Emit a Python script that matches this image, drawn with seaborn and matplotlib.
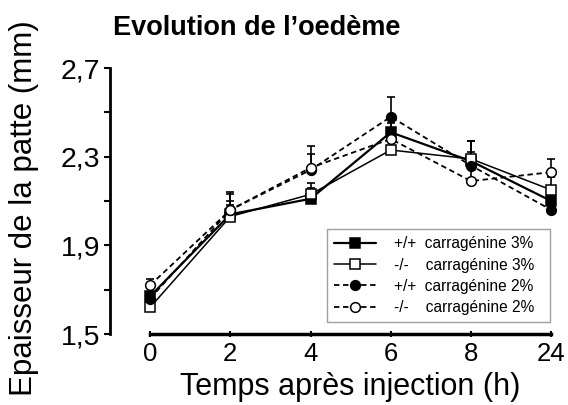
import numpy as np
import pandas as pd
import matplotlib
matplotlib.use("Agg")
import matplotlib.pyplot as plt
import seaborn as sns

# données
temps = ["0", "2", "4", "6", "8", "24"]
series = ["+/+  carragénine 3%  ", "-/-    carragénine 3%  ",
          "+/+  carragénine 2%  ", "-/-    carragénine 2%  "]
wt_3 = [1.67, 2.04, 2.11, 2.41, 2.28, 2.10]
ko_3 = [1.62, 2.03, 2.13, 2.33, 2.29, 2.15]
wt_2 = [1.66, 2.06, 2.24, 2.48, 2.26, 2.06]
ko_2 = [1.72, 2.06, 2.25, 2.38, 2.19, 2.23]
err_wt_3 = [0.04, 0.06, 0.05, 0.08, 0.09, 0.05]
err_ko_3 = [0.03, 0.05, 0.05, 0.06, 0.08, 0.06]
err_wt_2 = [0.05, 0.07, 0.07, 0.09, 0.11, 0.05]
err_ko_2 = [0.03, 0.08, 0.10, 0.07, 0.13, 0.06]

valeurs = [wt_3, ko_3, wt_2, ko_2]
erreurs = [err_wt_3, err_ko_3, err_wt_2, err_ko_2]
styles = [
    dict(marker="s", mfc="black", ls="-", lw=1.6),
    dict(marker="s", mfc="white", ls="-", lw=1.1),
    dict(marker="o", mfc="black", ls=(0, (3, 2)), lw=1.3),
    dict(marker="o", mfc="white", ls=(0, (3, 2)), lw=1.3),
]

rows = []
for nom, vals in zip(series, valeurs):
    for i, (t, v) in enumerate(zip(temps, vals)):
        rows.append({"pos": i, "temps": t, "epaisseur": v, "serie": nom})
df = pd.DataFrame(rows)

sns.set_style("ticks")
plt.rcParams["font.family"] = ["Liberation Sans", "DejaVu Sans"]
plt.rcParams["text.color"] = "black"
plt.rcParams["axes.labelcolor"] = "black"

fig = plt.figure(figsize=(5.68, 4.05), dpi=100)
ax = fig.add_axes([110 / 568, 71 / 405, 446 / 568, 266 / 405])

for nom, err, st in zip(series, erreurs, styles):
    sub = df[df["serie"] == nom]
    ax.errorbar(sub["pos"], sub["epaisseur"], yerr=[np.zeros(len(err)), err],
                fmt="none", ecolor="black", elinewidth=1.2, capsize=3, capthick=1.2, zorder=2)
    sns.lineplot(data=sub, x="pos", y="epaisseur", ax=ax, color="black",
                 linestyle=st["ls"], linewidth=st["lw"], marker=st["marker"],
                 markerfacecolor=st["mfc"], markeredgecolor="black", markeredgewidth=1.1,
                 markersize=7, label=nom, zorder=3)

ax.set_xlim(-0.5, 5.06)
ax.set_ylim(1.5, 2.7)
ax.set_xticks(range(len(temps)))
ax.set_xticklabels(temps)
ax.set_yticks([1.5, 1.7, 1.9, 2.1, 2.3, 2.5, 2.7])
ax.set_yticklabels(["1,5", "", "1,9", "", "2,3", "", "2,7"])
ax.tick_params(axis="both", width=1.5, color="black", labelcolor="black")
ax.tick_params(axis="y", length=4, direction="out", pad=3, labelsize=20.5)
ax.tick_params(axis="x", length=5, direction="inout", pad=3, labelsize=18.5)
sns.despine(ax=ax)
ax.spines["left"].set_bounds(1.5, 2.7)
ax.spines["bottom"].set_bounds(0, 5)
ax.spines["left"].set_linewidth(2)
ax.spines["bottom"].set_linewidth(2.5)
ax.spines["left"].set_color("black")
ax.spines["bottom"].set_color("black")

ax.set_xlabel("Temps après injection (h)", fontsize=22, color="black")
ax.xaxis.set_label_coords(0.538, -0.143)
ax.set_ylabel("Epaisseur de la patte (mm)", fontsize=22.5, color="black")
ax.yaxis.set_label_coords(-0.16, 0.475)

leg = ax.legend(loc="lower right", bbox_to_anchor=(0.986, 0.045), borderaxespad=0,
                fontsize=11.2, frameon=True, fancybox=False, edgecolor="#888888",
                handlelength=2.7, handletextpad=1.15, borderpad=0.45, labelspacing=0.4)
leg.get_frame().set_linewidth(1)
for txt in leg.get_texts():
    txt.set_color("black")

fig.text(0.452, 0.93, "Evolution de l\u2019oedème", fontsize=19.5, fontweight="bold",
         ha="center", va="center", color="black")

fig.savefig("out.png", dpi=100, facecolor="white")
